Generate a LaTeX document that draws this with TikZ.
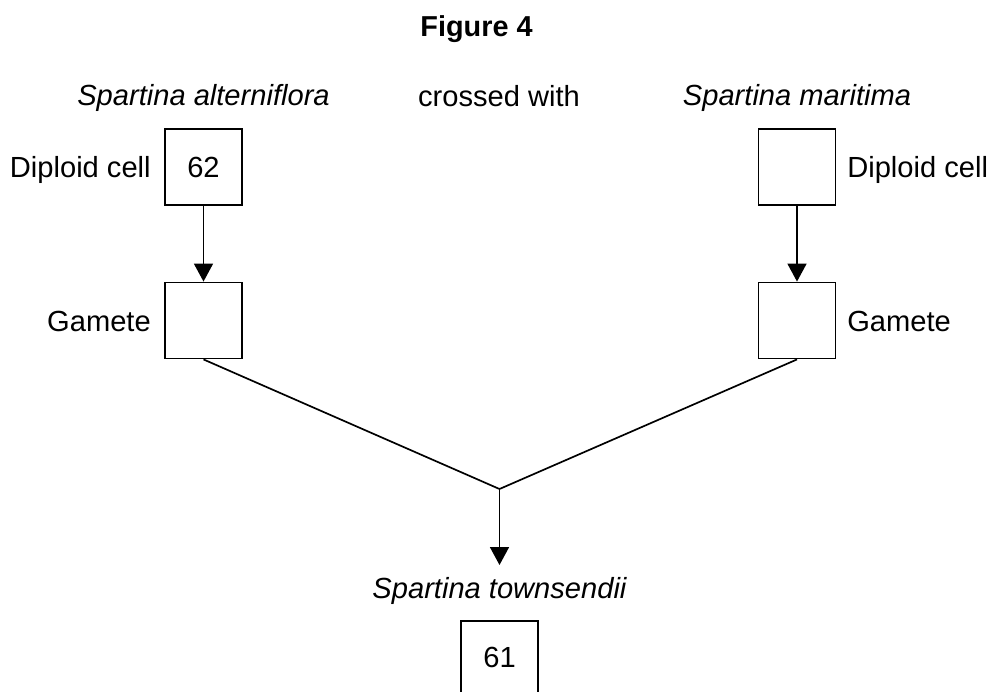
\documentclass[tikz,border=0pt]{standalone}
\usepackage{fontspec}
\setmainfont{Liberation Sans}
\usetikzlibrary{arrows.meta}
\tikzset{
  cellbox/.style={draw,line width=1.3pt,minimum width=1.925cm,minimum height=1.9cm,inner sep=0pt},
  lbl/.style={inner sep=0pt,font=\fontsize{20.7pt}{24pt}\selectfont},
  spec/.style={lbl,font=\fontsize{20.7pt}{24pt}\selectfont\itshape},
  link/.style={line width=1.2pt},
  flow/.style={link,-{Triangle[width=0.475cm,length=0.45cm]}}
}
\begin{document}
\begin{tikzpicture}[x=0.025cm,y=-0.025cm]
      \clip (0,0) rectangle (992,691);
      \fill[white] (0,0) rectangle (992,691);
      % heading
      \node[lbl,font=\fontsize{20.5pt}{24pt}\selectfont\bfseries,anchor=base] (title) at (476.5,36.5) {Figure 4};
      \node[spec,anchor=base] (alt) at (203.5,105) {Spartina alterniflora};
      \node[lbl,anchor=base] (cross) at (499,106) {crossed with};
      \node[spec,anchor=base] (mar) at (797,105) {Spartina maritima};
      % parent cells
      \node[cellbox] (dipL) at (203.5,167) {};
      \node[cellbox] (dipR) at (797,167) {};
      \node[cellbox] (gamL) at (203.5,320.5) {};
      \node[cellbox] (gamR) at (797,320.5) {};
      \node[lbl,anchor=base] (chromL) at (203.5,177) {62};
      \node[lbl,anchor=base east] (dipLtxt) at (151,177) {Diploid cell};
      \node[lbl,anchor=base west] (dipRtxt) at (847,177) {Diploid cell};
      \node[lbl,anchor=base east] (gamLtxt) at (151,331) {Gamete};
      \node[lbl,anchor=base west] (gamRtxt) at (847,331) {Gamete};
      \draw[flow] (dipL) -- (gamL);
      \draw[flow] (dipR) -- (gamR);
      % offspring
      \coordinate (join) at (499.5,489);
      \node[cellbox,anchor=north] (hyb) at (499.5,620) {};
      \node[lbl,anchor=base] (chromH) at (499.5,667) {61};
      \node[spec,anchor=base] (town) at (499.5,598) {Spartina townsendii};
      \coordinate (tip) at (499.5,565);
      \draw[link] (gamL.south) -- (join) -- (gamR.south);
      \draw[flow] (join) -- (tip);
\end{tikzpicture}
\end{document}
